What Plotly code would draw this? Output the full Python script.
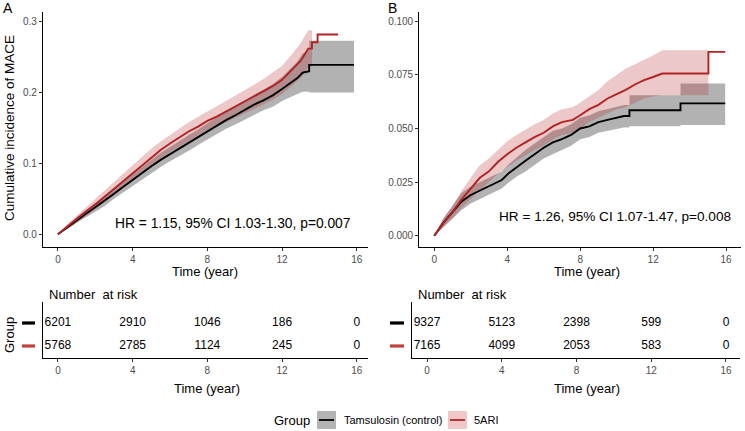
import plotly.graph_objects as go

W, H = 745, 431

# ---------------- Panel A data ----------------
a_ctrl_t = [0, 0.5, 1, 1.5, 2, 2.5, 3, 3.5, 4, 4.5, 5, 5.5, 6, 6.5, 7, 7.5, 8, 8.5, 9, 9.5,
            10, 10.5, 11, 11.5, 12, 12.4, 12.8, 13.1, 13.45, 13.45, 15.85]
a_ctrl_y = [0, 0.010, 0.020, 0.029, 0.038, 0.047, 0.057, 0.067, 0.077, 0.086, 0.096, 0.105,
            0.113, 0.121, 0.129, 0.137, 0.146, 0.153, 0.161, 0.168, 0.176, 0.183, 0.189,
            0.196, 0.205, 0.213, 0.220, 0.228, 0.230, 0.239, 0.239]
a_ctrl_lo = [0, 0.007, 0.016, 0.024, 0.032, 0.040, 0.050, 0.059, 0.069, 0.077, 0.087, 0.095,
             0.103, 0.110, 0.118, 0.126, 0.134, 0.141, 0.149, 0.155, 0.162, 0.169, 0.175,
             0.180, 0.188, 0.193, 0.198, 0.201, 0.201, 0.200, 0.200]
a_ctrl_hi = [0, 0.013, 0.024, 0.034, 0.044, 0.054, 0.064, 0.075, 0.085, 0.095, 0.105, 0.115,
             0.123, 0.132, 0.140, 0.148, 0.157, 0.165, 0.173, 0.181, 0.190, 0.197, 0.204,
             0.212, 0.222, 0.233, 0.243, 0.255, 0.260, 0.273, 0.273]

a_ari_t = [0, 0.5, 1, 1.5, 2, 2.5, 3, 3.5, 4, 4.5, 5, 5.5, 6, 6.5, 7, 7.5, 8, 8.5, 9, 9.5,
           10, 10.5, 11, 11.5, 12, 12.5, 13, 13.4, 13.6, 13.6, 13.9, 13.9, 15.0]
a_ari_y = [0, 0.011, 0.021, 0.032, 0.042, 0.053, 0.064, 0.076, 0.087, 0.098, 0.109, 0.119,
           0.128, 0.137, 0.145, 0.152, 0.160, 0.166, 0.173, 0.180, 0.187, 0.194, 0.201,
           0.209, 0.218, 0.231, 0.245, 0.262, 0.262, 0.271, 0.271, 0.282, 0.282]
a_ari_band_t = [0, 0.5, 1, 1.5, 2, 2.5, 3, 3.5, 4, 4.5, 5, 5.5, 6, 6.5, 7, 7.5, 8, 8.5, 9, 9.5,
                10, 10.5, 11, 11.5, 12, 12.5, 13, 13.4, 13.6]
a_ari_lo = [0, 0.008, 0.017, 0.026, 0.035, 0.045, 0.055, 0.066, 0.077, 0.087, 0.097, 0.107,
            0.116, 0.124, 0.132, 0.139, 0.147, 0.152, 0.158, 0.164, 0.171, 0.177, 0.183,
            0.190, 0.198, 0.209, 0.221, 0.236, 0.236]
a_ari_hi = [0, 0.014, 0.026, 0.038, 0.049, 0.061, 0.073, 0.086, 0.097, 0.109, 0.121, 0.131,
            0.140, 0.150, 0.158, 0.166, 0.173, 0.180, 0.188, 0.196, 0.203, 0.211, 0.219,
            0.228, 0.238, 0.253, 0.270, 0.288, 0.288]

# ---------------- Panel B data ----------------
b_ctrl_t = [0, 0.5, 1, 1.5, 2, 2.5, 3, 3.4, 3.7, 4.1, 4.5, 5, 5.5, 6, 6.5, 7, 7.5, 8, 8.5,
            9, 9.5, 10, 10.4, 10.7, 10.7, 13.5, 13.5, 15.95]
b_ctrl_y = [0, 0.006, 0.011, 0.016, 0.019, 0.021, 0.023, 0.0245, 0.026, 0.0293, 0.032, 0.035,
            0.038, 0.041, 0.0435, 0.045, 0.047, 0.050, 0.051, 0.053, 0.054, 0.055, 0.0558,
            0.0558, 0.0585, 0.0585, 0.0617, 0.0617]
b_ctrl_lo = [0, 0.004, 0.008, 0.012, 0.015, 0.017, 0.019, 0.0205, 0.022, 0.025, 0.0275, 0.030,
             0.033, 0.036, 0.038, 0.040, 0.042, 0.045, 0.046, 0.048, 0.049, 0.050, 0.0505,
             0.0505, 0.051, 0.051, 0.0516, 0.0516]
b_ctrl_hi = [0, 0.008, 0.014, 0.020, 0.023, 0.025, 0.027, 0.0285, 0.030, 0.0335, 0.0365, 0.040,
             0.043, 0.046, 0.049, 0.050, 0.052, 0.055, 0.056, 0.058, 0.059, 0.060, 0.061,
             0.061, 0.0655, 0.0655, 0.071, 0.071]

b_ari_t = [0, 0.5, 1, 1.5, 2, 2.5, 3, 3.5, 4, 4.5, 5, 5.5, 6, 6.5, 7, 7.6, 8, 8.5, 9, 9.5,
           10, 10.5, 11, 11.5, 12, 12.5, 15.03, 15.03, 15.95]
b_ari_y = [0, 0.006, 0.011, 0.017, 0.022, 0.027, 0.030, 0.0345, 0.038, 0.041, 0.0435, 0.046,
           0.048, 0.051, 0.053, 0.054, 0.0562, 0.059, 0.061, 0.064, 0.066, 0.068, 0.0705,
           0.0725, 0.074, 0.0756, 0.0756, 0.0857, 0.0857]
b_ari_band_t = [0, 0.5, 1, 1.5, 2, 2.5, 3, 3.5, 4, 4.5, 5, 5.5, 6, 6.5, 7, 7.6, 8, 8.5, 9, 9.5,
                10, 10.5, 11, 11.5, 12, 12.5, 15.03]
b_ari_lo = [0, 0.004, 0.008, 0.013, 0.017, 0.021, 0.025, 0.029, 0.032, 0.035, 0.0375, 0.040,
            0.042, 0.045, 0.047, 0.048, 0.050, 0.053, 0.055, 0.057, 0.059, 0.060, 0.062,
            0.064, 0.065, 0.0655, 0.0655]
b_ari_hi = [0, 0.008, 0.014, 0.021, 0.027, 0.033, 0.036, 0.040, 0.044, 0.047, 0.0495, 0.052,
            0.054, 0.057, 0.059, 0.060, 0.062, 0.065, 0.068, 0.072, 0.075, 0.078, 0.080,
            0.082, 0.084, 0.0865, 0.0865]

# ---------------- Risk tables ----------------
risk_times = [0, 4, 8, 12, 16]
a_risk_ctrl = [6201, 2910, 1046, 186, 0]
a_risk_ari = [5768, 2785, 1124, 245, 0]
b_risk_ctrl = [9327, 5123, 2398, 599, 0]
b_risk_ari = [7165, 4099, 2053, 583, 0]

hr_a = "HR = 1.15, 95% CI 1.03-1.30, p=0.007"
hr_b = "HR = 1.26, 95% CI 1.07-1.47, p=0.008"
group_names = ["Tamsulosin (control)", "5ARI"]

BLACK = "#000000"
RED = "#B22222"
GRAY_FILL = "rgba(0,0,0,0.30)"
PINK_FILL = "rgba(178,34,34,0.25)"
FONT = "Liberation Sans, Arial, sans-serif"

fig = go.Figure()


def band(t, lo, hi, color, xa, ya):
    fig.add_trace(go.Scatter(x=t, y=lo, mode="lines", line=dict(width=0),
                             xaxis=xa, yaxis=ya, showlegend=False, hoverinfo="skip"))
    fig.add_trace(go.Scatter(x=t, y=hi, mode="lines", line=dict(width=0),
                             fill="tonexty", fillcolor=color,
                             xaxis=xa, yaxis=ya, showlegend=False, hoverinfo="skip"))


def curve(t, y, color, xa, ya, name):
    fig.add_trace(go.Scatter(x=t, y=y, mode="lines", line=dict(width=1.9, color=color),
                             xaxis=xa, yaxis=ya, showlegend=False, name=name))


# Panel A
band(a_ctrl_t, a_ctrl_lo, a_ctrl_hi, GRAY_FILL, "x", "y")
band(a_ari_band_t, a_ari_lo, a_ari_hi, PINK_FILL, "x", "y")
curve(a_ctrl_t, a_ctrl_y, BLACK, "x", "y", group_names[0])
curve(a_ari_t, a_ari_y, RED, "x", "y", group_names[1])
# Panel B
band(b_ctrl_t, b_ctrl_lo, b_ctrl_hi, GRAY_FILL, "x2", "y2")
band(b_ari_band_t, b_ari_lo, b_ari_hi, PINK_FILL, "x2", "y2")
curve(b_ctrl_t, b_ctrl_y, BLACK, "x2", "y2", group_names[0])
curve(b_ari_t, b_ari_y, RED, "x2", "y2", group_names[1])

# Risk tables
for xa, ya, ctrl, ari in [("x3", "y3", a_risk_ctrl, a_risk_ari), ("x4", "y4", b_risk_ctrl, b_risk_ari)]:
    fig.add_trace(go.Scatter(x=risk_times, y=[2] * len(risk_times), mode="text",
                             text=[str(v) for v in ctrl], textfont=dict(size=12, color="black", family=FONT),
                             xaxis=xa, yaxis=ya, showlegend=False, hoverinfo="skip"))
    fig.add_trace(go.Scatter(x=risk_times, y=[1] * len(risk_times), mode="text",
                             text=[str(v) for v in ari], textfont=dict(size=12, color="black", family=FONT),
                             xaxis=xa, yaxis=ya, showlegend=False, hoverinfo="skip"))


def fx(X):
    return X / W


def fy(Y):
    return 1 - Y / H


tickfont = dict(size=10, color="#4D4D4D", family=FONT)
axis_common = dict(showgrid=False, zeroline=False, showline=True, linecolor="black", linewidth=1.2,
                   ticks="outside", ticklen=3, tickcolor="#333333", tickwidth=1, tickfont=tickfont)
table_y_common = dict(showgrid=False, zeroline=False, showline=True, linecolor="black", linewidth=1.2,
                      ticks="", showticklabels=False)

top_y = [fy(246.7), fy(12)]
tab_y = [fy(358), fy(302)]

fig.update_layout(
    width=W, height=H, margin=dict(l=0, r=0, t=0, b=0),
    plot_bgcolor="white", paper_bgcolor="white", showlegend=False,
    font=dict(family=FONT, color="black"),
    xaxis=dict(domain=[fx(43), fx(368)], range=[-0.8, 16.6], tickvals=[0, 4, 8, 12, 16],
               anchor="y", **axis_common),
    yaxis=dict(domain=top_y, range=[-0.0176, 0.3137], tickvals=[0, 0.1, 0.2, 0.3],
               ticktext=["0.0", "0.1", "0.2", "0.3"], anchor="x", **axis_common),
    xaxis2=dict(domain=[fx(419.3), fx(740.7)], range=[-0.82, 16.8], tickvals=[0, 4, 8, 12, 16],
                anchor="y2", **axis_common),
    yaxis2=dict(domain=top_y, range=[-0.0051, 0.1043], tickvals=[0, 0.025, 0.05, 0.075, 0.1],
                ticktext=["0.000", "0.025", "0.050", "0.075", "0.100"], anchor="x2", **axis_common),
    xaxis3=dict(domain=[fx(43), fx(368)], range=[-0.8, 16.6], tickvals=[0, 4, 8, 12, 16],
                anchor="y3", **axis_common),
    yaxis3=dict(domain=tab_y, range=[0.478, 2.913], anchor="x3", **table_y_common),
    xaxis4=dict(domain=[fx(411.7), fx(740)], range=[-0.82, 16.75], tickvals=[0, 4, 8, 12, 16],
                anchor="y4", **axis_common),
    yaxis4=dict(domain=tab_y, range=[0.478, 2.913], anchor="x4", **table_y_common),
)

ann = []


def text(X, Y, s, size, angle=0, xanchor="center", color="black"):
    ann.append(dict(x=fx(X), y=fy(Y), xref="paper", yref="paper", text=s, showarrow=False,
                    font=dict(size=size, color=color, family=FONT), textangle=angle,
                    xanchor=xanchor, yanchor="middle"))


text(8, 8, "A", 14)
text(393, 8, "B", 14)
text(9, 128, "Cumulative incidence of MACE", 13.5, angle=-90)
text(232, 223, hr_a, 13.8)
text(615, 216, hr_b, 13.6)
text(205, 271, "Time (year)", 13)
text(587, 271, "Time (year)", 13)
text(47, 294, "Number  at risk", 13, xanchor="left")
text(416, 294, "Number  at risk", 13, xanchor="left")
text(9, 335, "Group", 13, angle=-90)
text(207, 388, "Time (year)", 13)
text(587, 388, "Time (year)", 13)
# legend
text(272, 420, "Group", 13, xanchor="left")
text(342, 420, group_names[0], 11, xanchor="left")
text(472, 420, group_names[1], 11, xanchor="left")
fig.update_layout(annotations=ann)

shapes = []
# risk table row keys
for (x0, x1, yr) in [(22, 35, "y3"), (390, 404, "y4")]:
    for yv, col in [(2, BLACK), (1, "#C0403C")]:
        shapes.append(dict(type="rect", xref="paper", yref=yr, x0=fx(x0), x1=fx(x1),
                           y0=yv - 0.07, y1=yv + 0.07, fillcolor=col, line=dict(width=0)))
# legend keys
for (x0, x1, fill, col) in [(317, 336, "#B3B3B3", BLACK), (448, 467, "#F0C8C8", RED)]:
    shapes.append(dict(type="rect", xref="paper", yref="paper", x0=fx(x0), x1=fx(x1),
                       y0=fy(429), y1=fy(411), fillcolor=fill, line=dict(width=0)))
    shapes.append(dict(type="line", xref="paper", yref="paper", x0=fx(x0 + 2), x1=fx(x1 - 2),
                       y0=fy(420), y1=fy(420), line=dict(color=col, width=1.8)))
fig.update_layout(shapes=shapes)

fig.write_html("out.html")
